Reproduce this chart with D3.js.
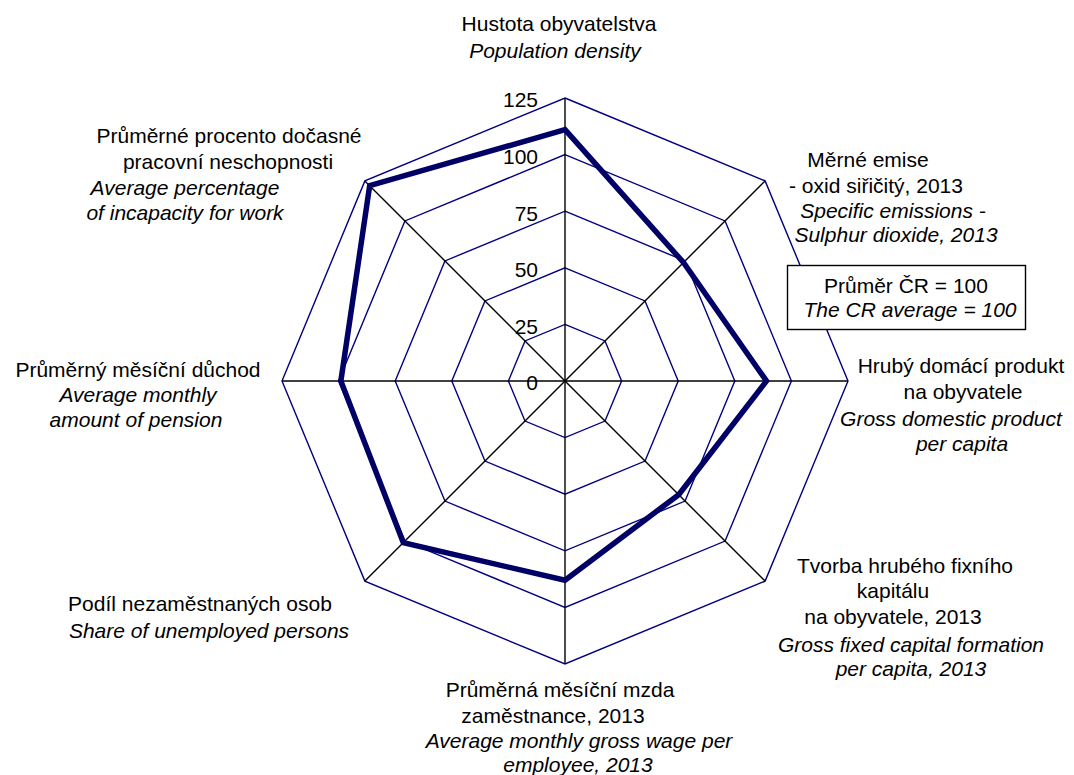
<!DOCTYPE html>
<html>
<head>
<meta charset="utf-8">
<script src="https://cdn.jsdelivr.net/npm/d3@7"></script>
<style>
  body { margin: 0; background: #fff; }
  text { font-family: "Liberation Sans", Arial, sans-serif; fill: #000; }
</style>
</head>
<body>
<script>
'use strict'

// index values, CR average = 100, clockwise from the top
var categories = [
  'Hustota obyvatelstva',
  'Měrné emise - oxid siřičitý, 2013',
  'Hrubý domácí produkt na obyvatele',
  'Tvorba hrubého fixního kapitálu na obyvatele, 2013',
  'Průměrná měsíční mzda zaměstnance, 2013',
  'Podíl nezaměstnaných osob',
  'Průměrný měsíční důchod',
  'Průměrné procento dočasné pracovní neschopnosti'
]
var values = [111, 74, 89, 71, 88, 101, 99, 122]
var ticks = [0, 25, 50, 75, 100, 125]

// label text, split as in the original (italic lines are English)
var labelLines = [
  [['Hustota obyvatelstva', false], ['Population density', true]],
  [['Měrné emise', false], ['- oxid siřičitý, 2013', false], ['Specific emissions  -', true], ['Sulphur dioxide, 2013', true]],
  [['Hrubý domácí produkt', false], ['na obyvatele', false], ['Gross domestic product', true], ['per capita', true]],
  [['Tvorba hrubého fixního', false], ['kapitálu', false], ['na obyvatele, 2013', false], ['Gross fixed capital formation', true], ['per capita, 2013', true]],
  [['Průměrná měsíční mzda', false], ['zaměstnance, 2013', false], ['Average monthly gross wage per', true], ['employee, 2013', true]],
  [['Podíl nezaměstnaných osob', false], ['Share of unemployed persons', true]],
  [['Průměrný měsíční důchod', false], ['Average monthly', true], ['amount of pension', true]],
  [['Průměrné procento dočasné', false], ['pracovní  neschopnosti', false], ['Average percentage', true], ['of incapacity for work', true]]
]
var legendLines = [['Průměr  ČR = 100', false], ['The CR average  = 100', true]]

// layout of the label blocks: centre x of each line and its y
var labelPos = [
  {x: [559, 555], y: [24, 51]},
  {x: [868, 876, 893, 896], y: [160, 186, 211, 235]},
  {x: [961, 963, 951, 962], y: [366, 392, 419, 444]},
  {x: [905, 893, 893, 911, 911], y: [566, 591, 617, 645, 669]},
  {x: [560, 553, 579, 578], y: [690, 716, 741, 765]},
  {x: [200, 209], y: [604, 631]},
  {x: [138, 138, 136], y: [370, 395, 420]},
  {x: [229, 228, 185, 185], y: [136, 162, 188, 213]}
]

var W = 1074
var H = 775
var cx = 565
var cy = 381
var fontSize = 21

var r = d3.scaleLinear().domain([0, 125]).range([0, 283])
var angle = d3.scaleLinear().domain([0, categories.length]).range([0, 2 * Math.PI])

function pt (i, v) {
  var a = angle(i)
  return [cx + r(v) * Math.sin(a), cy - r(v) * Math.cos(a)]
}

var svg = d3.select('body').append('svg')
  .attr('width', W)
  .attr('height', H)

var idx = d3.range(categories.length)

// grid rings
svg.append('g').selectAll('path.ring')
  .data(ticks.filter(t => t > 0))
  .enter().append('path')
  .attr('class', 'ring')
  .attr('d', t => d3.line()(idx.map(i => pt(i, t))) + 'Z')
  .attr('fill', 'none')
  .attr('stroke', '#000080')
  .attr('stroke-width', 1.4)

// spokes
svg.append('g').selectAll('line.spoke')
  .data(idx)
  .enter().append('line')
  .attr('class', 'spoke')
  .attr('x1', cx)
  .attr('y1', cy)
  .attr('x2', i => pt(i, 125)[0])
  .attr('y2', i => pt(i, 125)[1])
  .attr('stroke', '#000')
  .attr('stroke-width', 1.4)

// tick labels along the top spoke
svg.append('g').selectAll('text.tick')
  .data(ticks)
  .enter().append('text')
  .attr('class', 'tick')
  .attr('x', cx - 27)
  .attr('y', t => cy - r(t) + 2)
  .attr('dy', '0.35em')
  .attr('text-anchor', 'end')
  .attr('font-size', fontSize)
  .text(t => t)

// data polygon
svg.append('path')
  .datum(values)
  .attr('d', d => d3.line()(d.map((v, i) => pt(i, v))) + 'Z')
  .attr('fill', 'none')
  .attr('stroke', '#000066')
  .attr('stroke-width', 5.5)
  .attr('stroke-linejoin', 'miter')

// category labels
labelLines.forEach(function (lines, k) {
  var g = svg.append('g').attr('class', 'cat-label')
  g.selectAll('text')
    .data(lines)
    .enter().append('text')
    .attr('x', (d, j) => labelPos[k].x[j])
    .attr('y', (d, j) => labelPos[k].y[j])
    .attr('dy', '0.35em')
    .attr('text-anchor', 'middle')
    .attr('font-size', fontSize)
    .attr('font-style', d => d[1] ? 'italic' : 'normal')
    .text(d => d[0])
})

// legend box
var legend = svg.append('g')
legend.append('rect')
  .attr('x', 787.5)
  .attr('y', 265.5)
  .attr('width', 238)
  .attr('height', 64)
  .attr('fill', '#fff')
  .attr('stroke', '#000')
  .attr('stroke-width', 1.4)
legend.selectAll('text')
  .data(legendLines)
  .enter().append('text')
  .attr('x', (d, j) => j ? 910 : 906)
  .attr('y', (d, j) => j ? 310 : 286)
  .attr('dy', '0.35em')
  .attr('text-anchor', 'middle')
  .attr('font-size', fontSize)
  .attr('font-style', d => d[1] ? 'italic' : 'normal')
  .text(d => d[0])
</script>
</body>
</html>
